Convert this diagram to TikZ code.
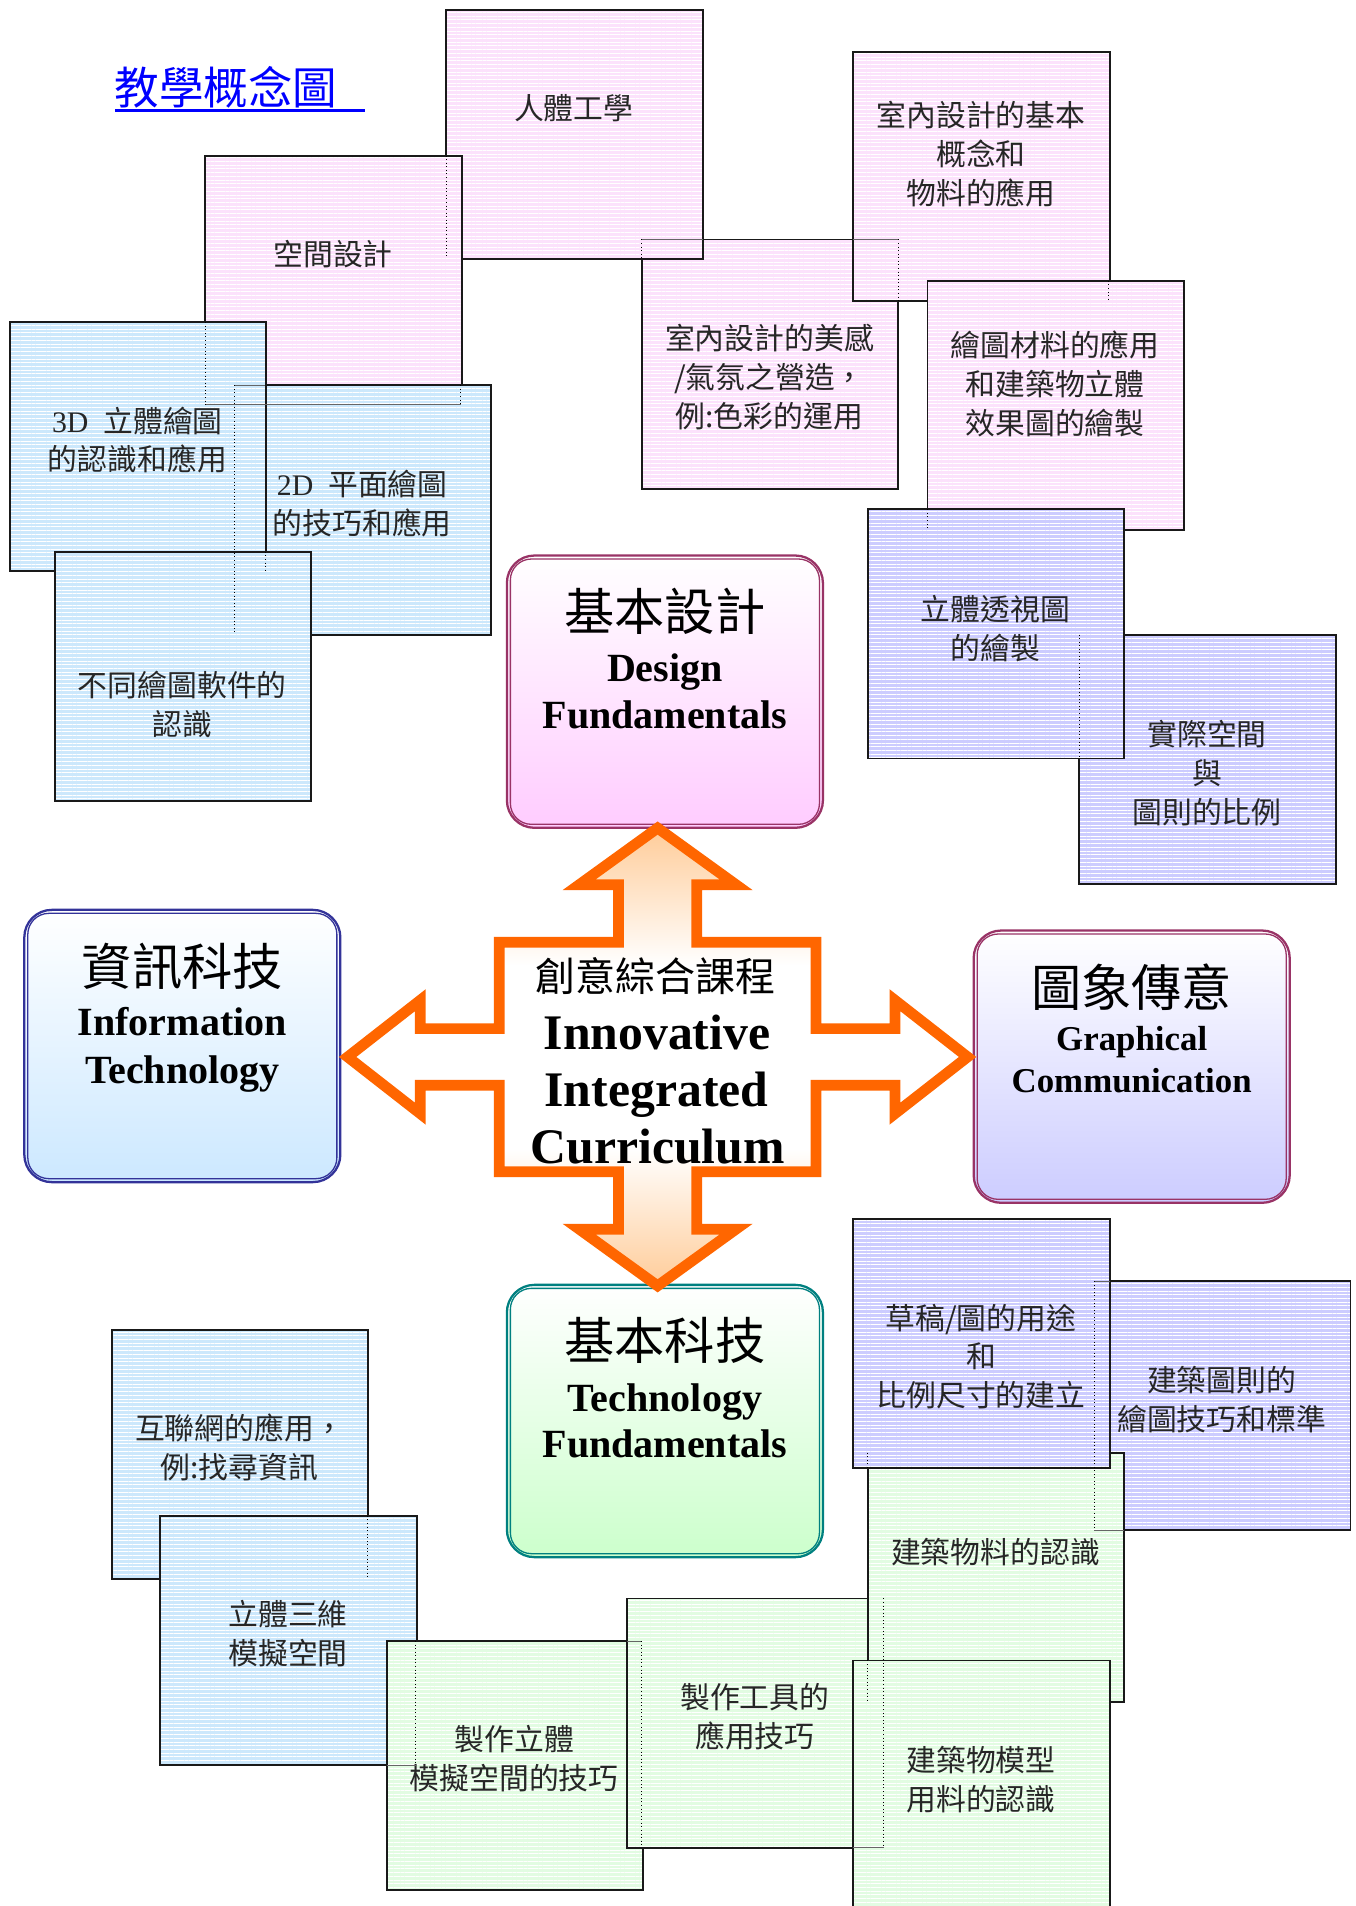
\documentclass[tikz,border=0pt]{standalone}
\usepackage{fontspec}
\setmainfont{Liberation Serif}
\newfontfamily\cjk{Noto Sans CJK TC}
\usetikzlibrary{calc,patterns.meta}

\definecolor{pinkfill}{RGB}{252,226,252}
\definecolor{cyanfill}{RGB}{204,232,252}
\definecolor{lavfill}{RGB}{204,204,255}
\definecolor{greenfill}{RGB}{226,252,226}
\definecolor{boxmaroon}{RGB}{153,51,102}
\definecolor{boxnavy}{RGB}{51,51,153}
\definecolor{boxteal}{RGB}{0,128,128}
\definecolor{orng}{RGB}{255,102,0}
\definecolor{peach}{RGB}{255,204,153}
\definecolor{pinkgrad}{RGB}{255,204,255}
\definecolor{bluegrad}{RGB}{204,232,255}
\definecolor{lavgrad}{RGB}{204,204,255}
\definecolor{greengrad}{RGB}{204,255,204}
\definecolor{titleblue}{RGB}{0,0,255}

\pgfdeclareverticalshading{crossshade}{100bp}{color(0bp)=(peach); color(25bp)=(peach); color(40bp)=(white); color(60bp)=(white); color(75bp)=(peach); color(100bp)=(peach)}

\tikzset{
  sbox/.style={rectangle, draw=black!90, line width=1.2pt,
    minimum width=158.25pt, minimum height=153.75pt, inner sep=0pt,
    preaction={fill=#1}, pattern={Lines[angle=0,distance=2.3pt,line width=0.5pt]},
    pattern color=white},
  stext/.style={align=center, font=\cjk\fontsize{18.4}{24}\selectfont, text=black!85, inner sep=0pt},
  rbox/.style 2 args={rectangle, rounded corners=17pt, minimum width=195pt,
    minimum height=168pt, draw=#1, line width=1.4pt, top color=white,
    bottom color=#2, inner sep=0pt},
  rtitle/.style={font=\cjk\fontsize{31}{31}\selectfont, inner sep=0pt},
  rsub/.style={anchor=base, font=\bfseries\fontsize{24.7}{24.7}\selectfont, inner sep=0pt},
  rsubsmall/.style={anchor=base, font=\bfseries\fontsize{21.5}{21.5}\selectfont, inner sep=0pt},
  crossen/.style={anchor=base, font=\bfseries\fontsize{30.7}{30.7}\selectfont, inner sep=0pt},
  ghostv/.style={line width=0.6pt, dash pattern=on 0.6pt off 1.6pt},
  ghosth/.style={line width=0.4pt, black!60},
}

\newcommand\boxnote[7]{%
  \node[sbox=#2] (#1) at (#3+105.5,#4+102.5) {};
  \node[stext] (#1t) at (#5,#6) {#7};}

\newcommand\roundbox[5]{% name, draw, grad, cx, cy
  \node[rbox={#2}{#3}] (#1) at (#4,#5) {};
  \draw[#2, line width=0.8pt, rounded corners=13pt]
    ($(#1.south west)+(3.8,-3.8)$) rectangle ($(#1.north east)+(-3.8,3.8)$);}

\begin{document}
\begin{tikzpicture}[x=0.75pt,y=-0.75pt]
\useasboundingbox (0,0) rectangle (1115,1568);
\fill[white] (0,0) rectangle (1115,1568);

% title
\node[anchor=west, inner sep=0pt, text=titleblue, font=\cjk\fontsize{27.5}{27.5}\selectfont] (title) at (94,72) {教學概念圖};
\draw[titleblue, line width=1.5pt] (95,91) -- (300,91);

% ---- upper cluster
\boxnote{p4}{pinkfill}{528}{197}{633}{310}{室內設計的美感\\/氣氛之營造，\\例:色彩的運用}
\boxnote{p1}{pinkfill}{367}{8}{472}{89}{人體工學}
\boxnote{p2}{pinkfill}{169}{128}{274}{209}{空間設計}
\boxnote{b2}{cyanfill}{193}{317}{298}{414}{{\rmfamily 2D}\hspace{0.5em}平面繪圖\\的技巧和應用}
\boxnote{b1}{cyanfill}{8}{265}{113}{362}{{\rmfamily 3D}\hspace{0.5em}立體繪圖\\的認識和應用}
\boxnote{b3}{cyanfill}{45}{454}{150}{579.5}{不同繪圖軟件的\\認識}
\boxnote{p3}{pinkfill}{702}{43}{807}{127}{室內設計的基本\\概念和\\物料的應用}
\boxnote{p5}{pinkfill}{763}{231}{868}{316}{繪圖材料的應用\\和建築物立體\\效果圖的繪製}
\boxnote{l2}{lavfill}{888}{522}{993}{636}{實際空間\\與\\圖則的比例}
\boxnote{l1}{lavfill}{714}{419}{819}{517}{立體透視圖\\的繪製}

% ---- lower cluster
\boxnote{b4}{cyanfill}{92}{1094}{197}{1191}{互聯網的應用，\\例:找尋資訊}
\boxnote{b5}{cyanfill}{132}{1247}{237}{1344}{立體三維\\模擬空間}
\boxnote{g4}{greenfill}{318}{1350}{423}{1447}{製作立體\\模擬空間的技巧}
\boxnote{g2}{greenfill}{516}{1315}{621}{1412}{製作工具的\\應用技巧}
\boxnote{l4}{lavfill}{900}{1054}{1005}{1151.5}{建築圖則的\\繪圖技巧和標準}
\boxnote{g1}{greenfill}{714}{1195}{819}{1277}{建築物料的認識}
\boxnote{l3}{lavfill}{702}{1003}{807}{1116}{草稿/圖的用途\\和\\比例尺寸的建立}
\boxnote{g3}{greenfill}{702}{1366}{807}{1464}{建築物模型\\用料的認識}

% ---- rounded boxes
\roundbox{design}{boxmaroon}{pinkgrad}{547}{569}
\node[rtitle] (designzh) at (547,503) {基本設計};
\node[rsub] (designen1) at (547,561) {Design};
\node[rsub] (designen2) at (547,599) {Fundamentals};

\roundbox{info}{boxnavy}{bluegrad}{150}{860.5}
\node[rtitle] (infozh) at (150,795) {資訊科技};
\node[rsub] (infoen1) at (150,852) {Information};
\node[rsub] (infoen2) at (150,891) {Technology};

\roundbox{graph}{boxmaroon}{lavgrad}{931}{877.5}
\node[rtitle] (graphzh) at (931,812) {圖象傳意};
\node[rsubsmall] (graphen1) at (931,864.5) {Graphical};
\node[rsubsmall] (graphen2) at (931,898.5) {Communication};

\roundbox{tech}{boxteal}{greengrad}{547}{1169}
\node[rtitle] (techzh) at (547,1103) {基本科技};
\node[rsub] (techen1) at (547,1161) {Technology};
\node[rsub] (techen2) at (547,1199) {Fundamentals};

% ---- central cross arrow
\begin{scope}[shift={(541,869.5)}]
\draw[shade, shading=crossshade, draw=orng, line width=6.6pt, line join=miter, miter limit=10]
  (0,-188.3) -- (64.5,-141.7) -- (32.2,-141.7) -- (32.2,-94.4) -- (130.3,-94.4)
  -- (130.3,-23.3) -- (195.2,-23.3) -- (195.2,-46.7) -- (255,0) -- (195.2,46.7)
  -- (195.2,23.3) -- (130.3,23.3) -- (130.3,94.4) -- (32.2,94.4) -- (32.2,141.7)
  -- (64.5,141.7) -- (0,188.3) -- (-64.5,141.7) -- (-32.2,141.7) -- (-32.2,94.4)
  -- (-130.3,94.4) -- (-130.3,23.3) -- (-195.2,23.3) -- (-195.2,46.7) -- (-255,0)
  -- (-195.2,-46.7) -- (-195.2,-23.3) -- (-130.3,-23.3) -- (-130.3,-94.4)
  -- (-32.2,-94.4) -- (-32.2,-141.7) -- (-64.5,-141.7) -- cycle;
\end{scope}
\node[font=\cjk\fontsize{24.7}{24.7}\selectfont, inner sep=0pt] (crosszh) at (539.5,803) {創意綜合課程};
\node[crossen] (crossen1) at (540.5,863.5) {Innovative};
\node[crossen] (crossen2) at (540,910.5) {Integrated};
\node[crossen] (crossen3) at (541,957.5) {Curriculum};

% ---- hidden edges showing through
\draw[ghosth] (169,333) -- (379,333);
\draw[ghosth] (193,317) -- (218,317);
\draw[ghosth] (528,197) -- (578,197);
\draw[ghosth] (702,197) -- (739,197);
\draw[ghosth] (900,1054) -- (913,1054);
\draw[ghosth] (900,1259) -- (925,1259);
\draw[ghosth] (702,1520) -- (727,1520);
\draw[ghosth] (516,1350) -- (528,1350);
\draw[ghosth] (318,1452) -- (342,1452);
\draw[ghostv] (367,128) -- (367,213);
\draw[ghostv] (169,265) -- (169,333);
\draw[ghostv] (379,317) -- (379,333);
\draw[ghostv] (193,317) -- (193,522);
\draw[ghostv] (218,454) -- (218,470);
\draw[ghostv] (528,197) -- (528,213);
\draw[ghostv] (739,197) -- (739,248);
\draw[ghostv] (912,231) -- (912,248);
\draw[ghostv] (763,419) -- (763,436);
\draw[ghostv] (888,522) -- (888,624);
\draw[ghostv] (900,1054) -- (900,1259);
\draw[ghostv] (714,1195) -- (714,1208);
\draw[ghostv] (727,1315) -- (727,1520);
\draw[ghostv] (714,1366) -- (714,1400);
\draw[ghostv] (528,1350) -- (528,1520);
\draw[ghostv] (302,1247) -- (302,1299);
\draw[ghostv] (342,1350) -- (342,1452);
\end{tikzpicture}
\end{document}
